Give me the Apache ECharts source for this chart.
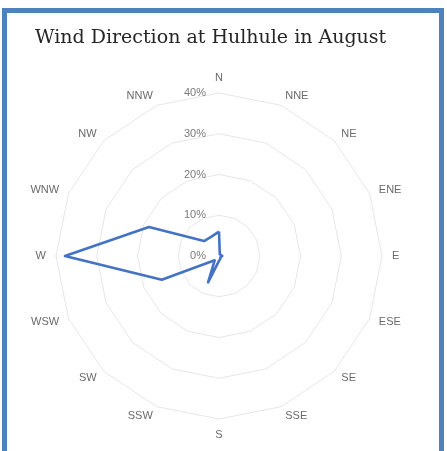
<!DOCTYPE html>
<html><head><meta charset="utf-8">
<script src="https://cdn.jsdelivr.net/npm/echarts@6/dist/echarts.min.js"></script>
<style>
html,body{margin:0;padding:0;background:#fff;}
#frame{position:absolute;left:2px;top:8px;width:432px;height:460px;border:5px solid #4f81bd;background:#fff;}
#chart{position:absolute;left:0;top:0;width:447px;height:451px;}
</style></head>
<body>
<div id="frame"></div>
<div id="chart"></div>
<script>
const directions = ['N','NNE','NE','ENE','E','ESE','SE','SSE','S','SSW','SW','WSW','W','WNW','NW','NNW'];
const frequency = [6, 0.5, 0.5, 0.5, 0.8, 0.5, 0.5, 0.8, 1.2, 7, 1.5, 15.2, 37.8, 18.6, 5.2, 5.1];
const tickLabels = ['0%','10%','20%','30%','40%'];
const maxValue = 40;

// ECharts radar runs counter-clockwise: reorder so compass runs clockwise
const order = [0].concat(directions.map((d,i)=>i).slice(1).reverse());
const indicators = order.map((i, k) => {
  const o = {name: directions[i], max: maxValue, min: 0};
  if (k === 0) o.axisLabel = {show: true};
  return o;
});
const values = order.map(i => frequency[i]);

const chart = echarts.init(document.getElementById('chart'));
chart.setOption({
  animation: false,
  title: {
    text: 'Wind Direction at Hulhule in August',
    left: 30, top: 24,
    textStyle: {fontFamily: 'DejaVu Serif', fontSize: 19, fontWeight: 'normal', color: '#262626'}
  },
  radar: {
    center: [219, 256],
    radius: 163,
    startAngle: 90,
    shape: 'polygon',
    splitNumber: 4,
    indicator: indicators,
    axisName: {color: '#6a6a6a', fontFamily: 'Liberation Sans', fontSize: 11},
    nameGap: 10,
    axisLine: {show: false},
    axisTick: {show: false},
    splitArea: {show: false},
    splitLine: {lineStyle: {color: '#e6e6e6', width: 1}},
    axisLabel: {
      show: false, color: '#7a7a7a', fontFamily: 'Liberation Sans', fontSize: 11,
      margin: 13,
      formatter: v => tickLabels[Math.round(v / 10)]
    }
  },
  series: [{
    type: 'radar',
    symbol: 'none',
    lineStyle: {color: '#4472c4', width: 2.6},
    data: [{value: values}]
  }]
});
</script>
</body></html>
